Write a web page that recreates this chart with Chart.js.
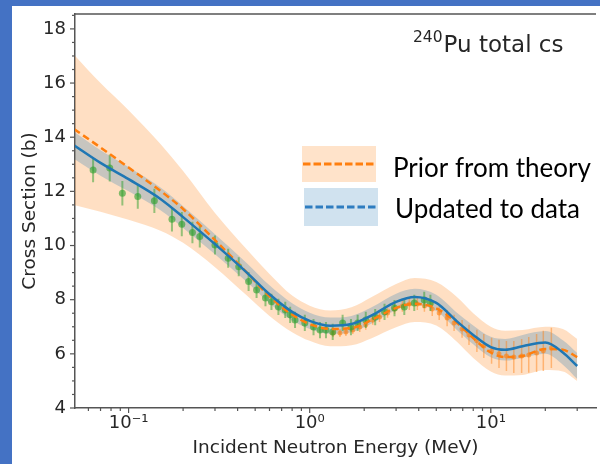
<!DOCTYPE html>
<html>
<head>
<meta charset="utf-8">
<script src="https://cdn.jsdelivr.net/npm/chart.js@4/dist/chart.umd.min.js"></script>
<style>
html,body{margin:0;padding:0;background:#4472c4;width:600px;height:464px;overflow:hidden;}
#wrap{position:absolute;left:12px;top:6px;width:588px;height:458px;background:#fff;}
canvas{display:block;}
</style>
</head>
<body>
<div id="wrap"><canvas id="cs" width="588" height="458"></canvas></div>
<script>
// curves (energy in MeV, cross section in b)
const energy      = [0.05, 0.07, 0.1, 0.15, 0.2, 0.3, 0.45, 0.6, 0.8, 1.0, 1.3, 1.7, 2.2, 3, 3.8, 5, 6.5, 8, 10, 12, 15, 20, 25, 30];
const updatedMean = [13.70,13.05,12.45,11.72,11.05,10.05,9.00,8.20,7.55,7.22,7.04,7.10,7.42,7.92,8.10,7.88,7.20,6.70,6.25,6.15,6.28,6.42,6.05,5.55];
const updatedHi   = [14.20,13.52,12.90,12.14,11.45,10.42,9.35,8.53,7.87,7.52,7.34,7.40,7.72,8.22,8.40,8.18,7.52,7.05,6.63,6.55,6.70,6.84,6.50,6.03];
const updatedLo   = [13.20,12.58,12.00,11.30,10.65,9.68,8.65,7.87,7.23,6.92,6.74,6.80,7.12,7.62,7.80,7.58,6.88,6.35,5.87,5.75,5.86,6.00,5.60,5.07];
const priorMean   = [14.30,13.62,12.88,12.02,11.35,10.20,9.00,8.12,7.45,7.10,6.92,6.95,7.25,7.70,7.85,7.68,7.15,6.58,6.05,5.88,5.92,6.18,6.15,5.88];
const priorHi     = [17.05,16.00,15.00,13.75,12.75,11.20,9.85,8.95,8.15,7.78,7.60,7.72,8.10,8.58,8.80,8.65,8.10,7.50,7.00,6.85,6.88,7.00,6.92,6.55];
const priorLo     = [11.50,11.25,10.95,10.55,10.10,9.20,8.15,7.40,6.80,6.48,6.28,6.32,6.58,6.98,7.18,7.05,6.45,5.85,5.35,5.20,5.22,5.40,5.35,5.00];

// green measurements
const greenE   = [0.0637,0.0787,0.0924,0.1124,0.1388,0.1736,0.1967,0.2252,0.2473,0.2999,0.3548,0.4057,0.46,0.509,0.570,0.615,0.672,0.733,0.78,0.83,0.94,1.05,1.14,1.23,1.34,1.52,1.69,1.84,2.04,2.3,2.59,2.94,3.33,3.78,4.29,4.64];
const greenV   = [12.79,12.86,11.93,11.81,11.65,10.97,10.79,10.48,10.33,10.02,9.53,9.22,8.67,8.36,8.06,7.92,7.73,7.62,7.44,7.25,7.14,6.99,6.88,6.88,6.81,7.14,6.99,7.14,7.25,7.36,7.55,7.69,7.73,7.88,7.99,7.88];
const greenErr = [0.45,0.50,0.45,0.45,0.45,0.45,0.45,0.40,0.40,0.35,0.35,0.35,0.35,0.30,0.30,0.30,0.30,0.30,0.30,0.30,0.30,0.30,0.30,0.30,0.30,0.30,0.30,0.30,0.30,0.30,0.30,0.30,0.30,0.30,0.30,0.30];

// orange measurements
const orangeE   = [1.345,1.47,1.585,1.73,1.89,2.04,2.23,2.43,2.69,2.94,3.25,3.55,3.93,4.30,4.75,5.19,5.74,6.27,6.94,7.58,8.38,9.15,10.1,11.1,12.2,13.4,14.8,16.2,17.9,19.5,21.6];
const orangeV   = [6.77,6.77,6.81,6.88,6.99,7.07,7.25,7.36,7.51,7.66,7.77,7.84,7.84,7.77,7.66,7.51,7.32,7.14,6.92,6.70,6.48,6.29,6.11,6.00,5.92,5.88,5.92,5.96,6.03,6.11,6.22];
const orangeErr = [0.15,0.15,0.15,0.15,0.18,0.18,0.18,0.18,0.18,0.18,0.22,0.22,0.22,0.22,0.26,0.26,0.30,0.30,0.33,0.37,0.41,0.44,0.48,0.52,0.55,0.59,0.63,0.66,0.70,0.74,0.74];

const xMajor = [0.1, 1, 10];
const xLabels = ['10\u207B\u00B9', '10\u2070', '10\u00B9'];
const yTicks = [4, 6, 8, 10, 12, 14, 16, 18];

const pts = (xs, ys) => xs.map((x, i) => ({x, y: ys[i]}));
function errData(xs, vs, es){
  const out = [];
  xs.forEach((x, i) => { out.push({x, y: vs[i] - es[i]}, {x, y: vs[i] + es[i]}, {x, y: null}); });
  return out;
}

const C1 = '#ff7f0e', C0 = '#1f77b4';
const AXIS = '#555555', TXT = '#262626';

const decor = {
  id: 'decor',
  afterDraw(chart){
    const {ctx, chartArea: a, scales: {x, y}} = chart;
    ctx.save();
    ctx.strokeStyle = AXIS;
    ctx.lineWidth = 1.5;
    ctx.beginPath(); ctx.moveTo(a.left, a.top); ctx.lineTo(a.right, a.top); ctx.stroke();

    // tick marks
    ctx.lineWidth = 1.2;
    const tick = (x0, y0, x1, y1) => { ctx.beginPath(); ctx.moveTo(x0, y0); ctx.lineTo(x1, y1); ctx.stroke(); };
    xMajor.forEach(v => { const px = x.getPixelForValue(v); tick(px, a.bottom, px, a.bottom + 5); });
    [0.01, 0.1, 1, 10].forEach(d => {
      for (let k = 2; k <= 9; k++) {
        const v = k * d;
        if (v < x.min || v > x.max) continue;
        const px = x.getPixelForValue(v);
        tick(px, a.bottom, px, a.bottom + 3);
      }
    });
    for (let v = yTicks[0]; v <= y.max; v += 0.5) {
      const py = y.getPixelForValue(v);
      const len = yTicks.includes(v) ? 5 : 3;
      tick(a.left - len, py, a.left, py);
    }

    // axis titles
    ctx.fillStyle = TXT;
    ctx.font = '18.5px "DejaVu Sans"';
    ctx.textAlign = 'center';
    ctx.textBaseline = 'alphabetic';
    ctx.fillText('Incident Neutron Energy (MeV)', (a.left + a.right) / 2, 447);
    ctx.save();
    ctx.translate(23, (a.top + a.bottom) / 2);
    ctx.rotate(-Math.PI / 2);
    ctx.fillText('Cross Section (b)', 0, 0);
    ctx.restore();

    // annotation
    ctx.textAlign = 'left';
    ctx.font = '15.5px "DejaVu Sans"';
    ctx.fillText('240', 401, 35.5);
    const w = ctx.measureText('240').width;
    ctx.font = '23px "DejaVu Sans"';
    ctx.fillText('Pu total cs', 401 + w + 1, 45.7);

    // legend
    ctx.fillStyle = 'rgba(255,127,14,0.22)';
    ctx.fillRect(290, 140, 74, 36);
    ctx.fillStyle = 'rgba(31,119,180,0.21)';
    ctx.fillRect(292, 182, 74, 38);
    ctx.lineWidth = 3;
    ctx.setLineDash([7.5, 3]);
    ctx.strokeStyle = C1;
    tick(291, 158, 364, 158);
    ctx.strokeStyle = '#2e7dc0';
    tick(293, 201, 366, 201);
    ctx.setLineDash([]);
    ctx.fillStyle = '#000';
    ctx.font = '26px Lato';
    ctx.fillText('Prior from theory', 381, 170.7, 204);
    ctx.fillText('Updated to data', 383, 212, 192);
    ctx.restore();
  }
};

const band = (data, color, fill) => ({data, borderWidth: 0, pointRadius: 0, fill, backgroundColor: color, tension: 0, cubicInterpolationMode: 'monotone'});

new Chart(document.getElementById('cs'), {
  type: 'line',
  data: {
    datasets: [
      {data: pts(energy, updatedMean), borderColor: C0, borderWidth: 2.5, pointRadius: 0, fill: false, cubicInterpolationMode: 'monotone', order: 0},
      {data: pts(energy, priorMean), borderColor: C1, borderWidth: 2.5, borderDash: [7, 4], pointRadius: 0, fill: false, cubicInterpolationMode: 'monotone', order: 1},
      {data: pts(greenE, greenV), showLine: false, pointRadius: 3.5, pointBorderWidth: 0, pointBackgroundColor: 'rgba(44,160,44,0.6)', order: 2},
      {data: errData(greenE, greenV, greenErr), borderColor: 'rgba(44,160,44,0.5)', borderWidth: 2, pointRadius: 0, spanGaps: false, tension: 0, order: 3},
      {data: pts(orangeE, orangeV), showLine: false, pointRadius: 2.5, pointBorderWidth: 0, pointBackgroundColor: 'rgba(255,127,14,0.6)', order: 4},
      {data: errData(orangeE, orangeV, orangeErr), borderColor: 'rgba(255,127,14,0.45)', borderWidth: 1.5, pointRadius: 0, spanGaps: false, tension: 0, order: 5},
      Object.assign(band(pts(energy, updatedHi), 'rgba(31,119,180,0.25)', '+1'), {order: 6}),
      Object.assign(band(pts(energy, updatedLo), 'rgba(0,0,0,0)', false), {order: 7}),
      Object.assign(band(pts(energy, priorHi), 'rgba(255,127,14,0.25)', '+1'), {order: 8}),
      Object.assign(band(pts(energy, priorLo), 'rgba(0,0,0,0)', false), {order: 9})
    ]
  },
  options: {
    responsive: false,
    animation: false,
    layout: {padding: {top: 0, left: 0, right: 0, bottom: 0}},
    plugins: {legend: {display: false}, tooltip: {enabled: false}},
    scales: {
      x: {
        type: 'logarithmic', min: 0.0506, max: 38.1,
        grid: {display: false, drawTicks: false},
        border: {display: true, color: AXIS, width: 1.5},
        afterBuildTicks: s => { s.ticks = xMajor.map(v => ({value: v})); },
        afterFit: s => { s.height = 56; },
        ticks: {padding: 8, autoSkip: false, maxRotation: 0, color: TXT, font: {family: 'DejaVu Sans', size: 18, lineHeight: 0.8},
                callback: v => xLabels[xMajor.indexOf(v)]}
      },
      y: {
        min: 4, max: 18.55,
        grid: {display: false, drawTicks: true, tickLength: 9},
        border: {display: true, color: AXIS, width: 1.5},
        afterBuildTicks: s => { s.ticks = yTicks.map(v => ({value: v})); },
        afterFit: s => { s.width = 63; },
        ticks: {padding: 0, color: TXT, font: {family: 'DejaVu Sans', size: 18, lineHeight: 0.889}}
      }
    }
  },
  plugins: [decor]
});
</script>
</body>
</html>
